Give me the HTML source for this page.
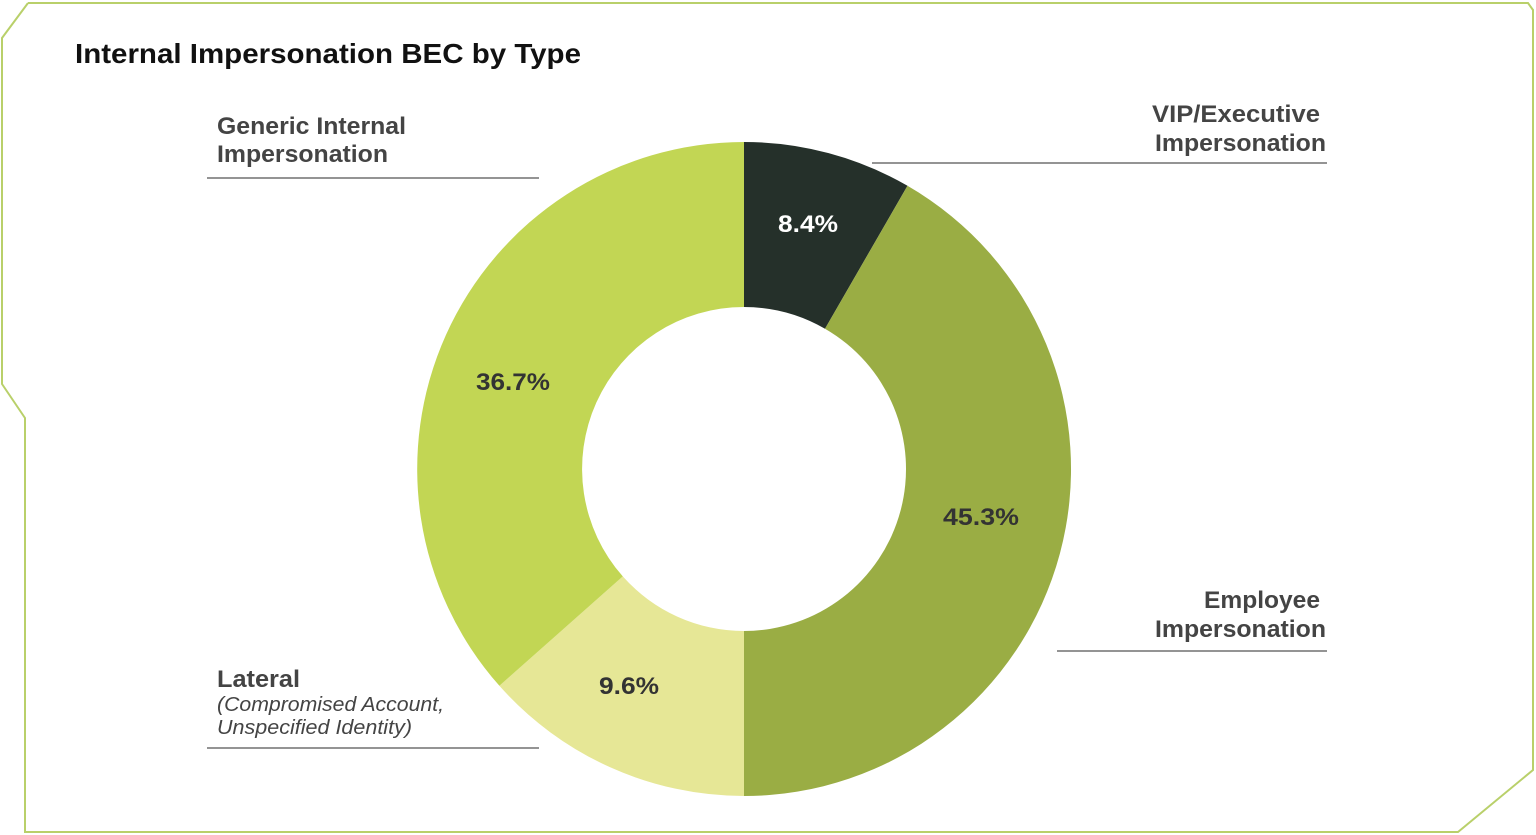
<!DOCTYPE html>
<html><head><meta charset="utf-8"><style>
html,body{margin:0;padding:0;background:#fff;width:1536px;height:835px;overflow:hidden}
svg{display:block}
text{font-family:"Liberation Sans",sans-serif}
</style></head><body>
<svg width="1536" height="835" viewBox="0 0 1536 835">
<polyline points="28,3 1528,3 1533,10 1533,770 1458,832 25,832 25,418 2,384 2,38 28,3" fill="none" stroke="#b9d06a" stroke-width="2"/>
<text x="75" y="63" font-size="28" font-weight="bold" fill="#111" textLength="506" lengthAdjust="spacingAndGlyphs">Internal Impersonation BEC by Type</text>
<path d="M744,142 A327,327 0 0 1 907.5,185.8 L825,328.7 A162,162 0 0 0 744,307 Z" fill="#25302a"/>
<path d="M907.5,185.8 A327,327 0 0 1 744,796 L744,631 A162,162 0 0 0 825,328.7 Z" fill="#9aad44"/>
<path d="M744,796 A327,327 0 0 1 499.4,685.8 L622.8,576.4 A162,162 0 0 0 744,631 Z" fill="#e6e796"/>
<path d="M499.4,685.8 A327,327 0 0 1 744,142 L744,307 A162,162 0 0 0 622.8,576.4 Z" fill="#c2d654"/>
<g font-size="24" font-weight="bold">
<text x="778" y="232" fill="#fff" textLength="60" lengthAdjust="spacingAndGlyphs">8.4%</text>
<text x="943" y="525" fill="#333" textLength="76" lengthAdjust="spacingAndGlyphs">45.3%</text>
<text x="599" y="694" fill="#333" textLength="60" lengthAdjust="spacingAndGlyphs">9.6%</text>
<text x="476" y="390" fill="#333" textLength="74" lengthAdjust="spacingAndGlyphs">36.7%</text>
</g>
<g font-size="24" font-weight="bold" fill="#444">
<text x="217" y="134" textLength="189" lengthAdjust="spacingAndGlyphs">Generic Internal</text>
<text x="217" y="162" textLength="171" lengthAdjust="spacingAndGlyphs">Impersonation</text>
<text x="1152" y="122" textLength="168" lengthAdjust="spacingAndGlyphs">VIP/Executive</text>
<text x="1155" y="151" textLength="171" lengthAdjust="spacingAndGlyphs">Impersonation</text>
<text x="1204" y="608" textLength="116" lengthAdjust="spacingAndGlyphs">Employee</text>
<text x="1155" y="637" textLength="171" lengthAdjust="spacingAndGlyphs">Impersonation</text>
<text x="217" y="687" textLength="83" lengthAdjust="spacingAndGlyphs">Lateral</text>
</g>
<g font-size="20" font-style="italic" fill="#444">
<text x="217" y="711" textLength="227" lengthAdjust="spacingAndGlyphs">(Compromised Account,</text>
<text x="217" y="734" textLength="195" lengthAdjust="spacingAndGlyphs">Unspecified Identity)</text>
</g>
<g stroke="#555" stroke-width="1.3">
<line x1="207" y1="178" x2="539" y2="178"/>
<line x1="872" y1="163" x2="1327" y2="163"/>
<line x1="1057" y1="651" x2="1327" y2="651"/>
<line x1="207" y1="748" x2="539" y2="748"/>
</g>
</svg>
</body></html>
